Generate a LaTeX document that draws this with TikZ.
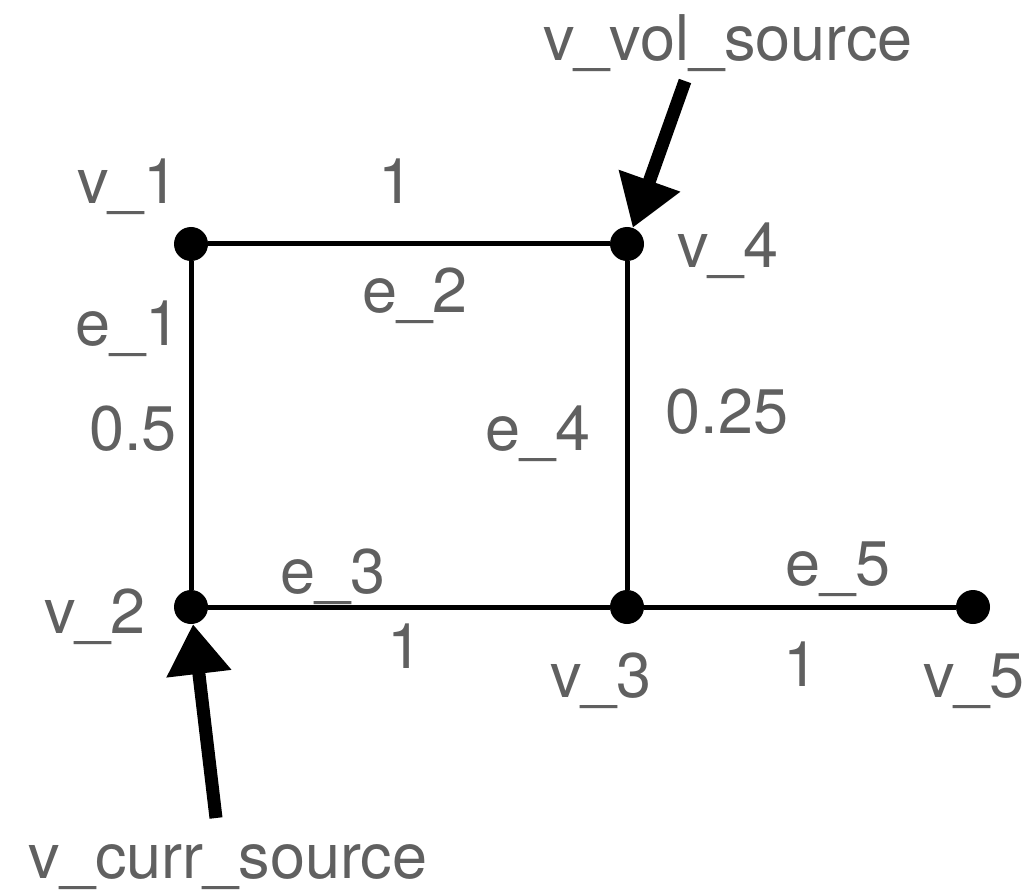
\documentclass[tikz,border=0pt]{standalone}
\usepackage{fontspec}
\setmainfont{TeX Gyre Heros}
\usetikzlibrary{arrows.meta}
\definecolor{labelgray}{RGB}{96,96,96}
\begin{document}
\begin{tikzpicture}[x=1pt,y=-1pt,
    vertex/.style={circle,fill=black,inner sep=0pt,minimum size=34pt},
    lbl/.style={text=labelgray,font=\fontsize{63}{76}\selectfont,inner sep=0pt,anchor=base},
    wire/.style={line width=5pt},
    srcarrow/.style={line width=13pt,-{Triangle[length=50pt,width=62pt]}}]
    \useasboundingbox (0,0) rectangle (1025,890);
    % vertices
    \node[vertex] (v1) at (191,244) {};
    \node[vertex] (v4) at (627,244) {};
    \node[vertex] (v2) at (191,607) {};
    \node[vertex] (v3) at (627,607) {};
    \node[vertex] (v5) at (973,607) {};
    % edges
    \draw[wire] (v1)--(v2);
    \draw[wire] (v1)--(v4);
    \draw[wire] (v2)--(v3);
    \draw[wire] (v4)--(v3);
    \draw[wire] (v3)--(v5);
    % sources
    \coordinate (voltail) at (685,81);
    \coordinate (curtail) at (216,818);
    \draw[srcarrow] (voltail)--(v4);
    \draw[srcarrow] (curtail)--(v2);
    % labels
    \node[lbl] (lv1) at (128,204) {v\_1};
    \node[lbl] (lv2) at (95,633) {v\_2};
    \node[lbl] (lv3) at (601,697) {v\_3};
    \node[lbl] (lv4) at (728,268) {v\_4};
    \node[lbl] (lv5) at (974,697) {v\_5};
    \node[lbl] (lvol) at (728,61) {v\_vol\_source};
    \node[lbl] (lcur) at (228,878) {v\_curr\_source};
    \node[lbl] (le1) at (128,345) {e\_1};
    \node[lbl] (le2) at (415,313) {e\_2};
    \node[lbl] (le3) at (333,593) {e\_3};
    \node[lbl] (le4) at (538,450) {e\_4};
    \node[lbl] (le5) at (838,585) {e\_5};
    \node[lbl] (w1) at (396,204) {1};
    \node[lbl] (w2) at (133,450) {0.5};
    \node[lbl] (w3) at (405,668) {1};
    \node[lbl] (w4) at (727,433) {0.25};
    \node[lbl] (w5) at (801,686) {1};
\end{tikzpicture}
\end{document}
